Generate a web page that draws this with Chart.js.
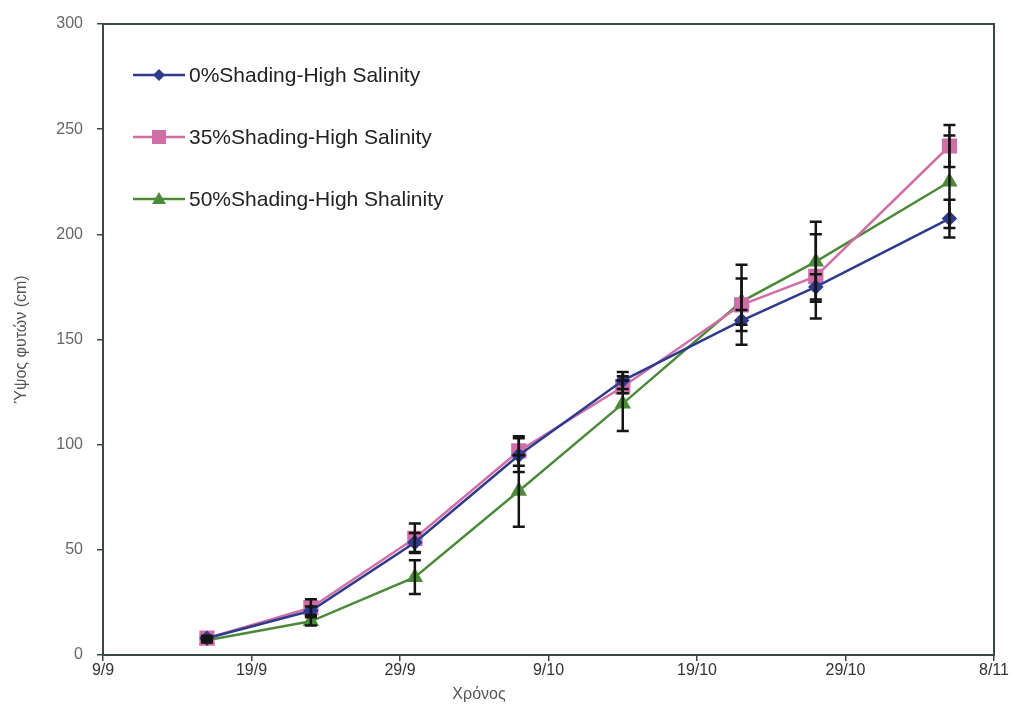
<!DOCTYPE html>
<html>
<head>
<meta charset="utf-8">
<script src="https://cdn.jsdelivr.net/npm/chart.js@4"></script>
<style>
  html, body { margin: 0; padding: 0; background: #fff; }
  #wrap { width: 1014px; height: 706px; position: relative; }
</style>
</head>
<body>
<div id="wrap"><canvas id="c"></canvas></div>
<script>
// Days counted from 9/9 (x axis runs 9/9 .. 8/11)
const days = [7, 14, 21, 28, 35, 43, 48, 57];
const tickLabels = ['9/9', '19/9', '29/9', '9/10', '19/10', '29/10', '8/11'];

const seriesNames = [
  '0%Shading-High Salinity',
  '35%Shading-High Salinity',
  '50%Shading-High Shalinity',
];
const shade0 = [8, 21, 53.5, 95, 130.5, 159, 175, 207.5];
const shade35 = [8, 22.5, 55.5, 97, 127.5, 166.5, 180, 242];
const shade50 = [7, 16, 37, 78, 119.5, 168, 187, 225];

const shade0Err = [1, 2, 4.5, 8, 4, 5, 6, 9];
const shade35Err = [1, 4, 7, 7, 3, 19, 20, 10];
const shade50Err = [1, 2, 8, 17, 13, 11, 19, 22];

const colors = ['#2E3A8C', '#D06FA6', '#4C8A3A'];

function pts(vals) {
  return vals.map((v, i) => ({ x: days[i], y: v }));
}

const errors = [shade0Err, shade35Err, shade50Err];

// error bars, plot frame, axis titles and legend
const decorations = {
  id: 'decorations',
  afterDatasetsDraw(chart) {
    const { ctx } = chart;
    const ys = chart.scales.y;
    ctx.save();
    ctx.strokeStyle = '#151515';
    ctx.lineWidth = 2.5;
    chart.data.datasets.forEach((ds, di) => {
      const meta = chart.getDatasetMeta(di);
      meta.data.forEach((p, i) => {
        const e = errors[di][i];
        const v = ds.data[i].y;
        const top = ys.getPixelForValue(v + e);
        const bot = ys.getPixelForValue(v - e);
        ctx.beginPath();
        ctx.moveTo(p.x, top); ctx.lineTo(p.x, bot);
        ctx.moveTo(p.x - 6, top); ctx.lineTo(p.x + 6, top);
        ctx.moveTo(p.x - 6, bot); ctx.lineTo(p.x + 6, bot);
        ctx.stroke();
      });
    });
    ctx.restore();
  },
  afterDraw(chart) {
    const { ctx, chartArea: a } = chart;
    ctx.save();
    // frame
    ctx.strokeStyle = '#3A4848';
    ctx.lineWidth = 2;
    ctx.strokeRect(a.left, a.top, a.right - a.left, a.bottom - a.top);

    // axis titles
    ctx.fillStyle = '#555';
    ctx.font = '16px "Liberation Sans", Arial, sans-serif';
    ctx.textAlign = 'center';
    ctx.textBaseline = 'middle';
    ctx.fillText('Χρόνος', a.left + (a.right - a.left) * 0.422, a.bottom + 40);
    ctx.translate(22, (a.top + a.bottom) / 2);
    ctx.rotate(-Math.PI / 2);
    ctx.fillText('Ύψος φυτών (cm)', 0, 0);
    ctx.restore();

    // legend
    ctx.save();
    ctx.font = '21px "Liberation Sans", Arial, sans-serif';
    ctx.textBaseline = 'middle';
    ctx.textAlign = 'left';
    const lx = a.left + 30;
    chart.data.datasets.forEach((ds, di) => {
      const y = a.top + 51 + di * 62;
      ctx.strokeStyle = ds.borderColor;
      ctx.lineWidth = 2.5;
      ctx.beginPath();
      ctx.moveTo(lx, y); ctx.lineTo(lx + 52, y);
      ctx.stroke();
      ctx.fillStyle = ds.backgroundColor;
      const cx = lx + 26;
      ctx.beginPath();
      if (ds.pointStyle === 'rectRot') {
        ctx.moveTo(cx, y - 6); ctx.lineTo(cx + 6, y); ctx.lineTo(cx, y + 6); ctx.lineTo(cx - 6, y);
      } else if (ds.pointStyle === 'rect') {
        ctx.rect(cx - 7, y - 7, 14, 14);
      } else {
        ctx.moveTo(cx, y - 7); ctx.lineTo(cx + 7, y + 5); ctx.lineTo(cx - 7, y + 5);
      }
      ctx.closePath();
      ctx.fill();
      ctx.fillStyle = '#222';
      ctx.fillText(ds.label, lx + 56, y + 1);
    });
    ctx.restore();
  }
};

new Chart(document.getElementById('c'), {
  type: 'line',
  data: {
    datasets: [
      { label: seriesNames[0], data: pts(shade0), borderColor: colors[0], backgroundColor: colors[0],
        pointStyle: 'rectRot', pointRadius: 6, borderWidth: 2.5 },
      { label: seriesNames[1], data: pts(shade35), borderColor: colors[1], backgroundColor: colors[1],
        pointStyle: 'rect', pointRadius: 9, borderWidth: 2.5 },
      { label: seriesNames[2], data: pts(shade50), borderColor: colors[2], backgroundColor: colors[2],
        pointStyle: 'triangle', pointRadius: 7, borderWidth: 2.5 },
    ],
  },
  options: {
    responsive: true,
    maintainAspectRatio: false,
    animation: false,
    layout: { padding: { top: 24, right: 20, left: 0, bottom: 0 } },
    plugins: { legend: { display: false }, tooltip: { enabled: false } },
    scales: {
      x: {
        type: 'linear',
        min: 0,
        max: 60,
        afterFit: (s) => { s.height = 51; },
        afterBuildTicks: (s) => { s.ticks = tickLabels.map((_, i) => ({ value: i * 10 })); },
        ticks: {
          autoSkip: false,
          maxRotation: 0,
          padding: 0,
          color: '#333',
          font: { family: '"Liberation Sans", Arial, sans-serif', size: 16 },
          callback: (v) => tickLabels[v / 10],
        },
        grid: { drawOnChartArea: false, tickLength: 6, color: '#3A4848', lineWidth: 1.5 },
        border: { color: '#3A4848', width: 2 },
      },
      y: {
        min: 0,
        max: 300,
        afterFit: (s) => { s.width = 103; },
        ticks: {
          stepSize: 50,
          padding: 14,
          color: '#666',
          font: { family: '"Liberation Sans", Arial, sans-serif', size: 16 },
        },
        grid: { drawOnChartArea: false, tickLength: 6, color: '#3A4848', lineWidth: 1.5 },
        border: { color: '#3A4848', width: 2 },
      },
    },
  },
  plugins: [decorations],
});
</script>
</body>
</html>
